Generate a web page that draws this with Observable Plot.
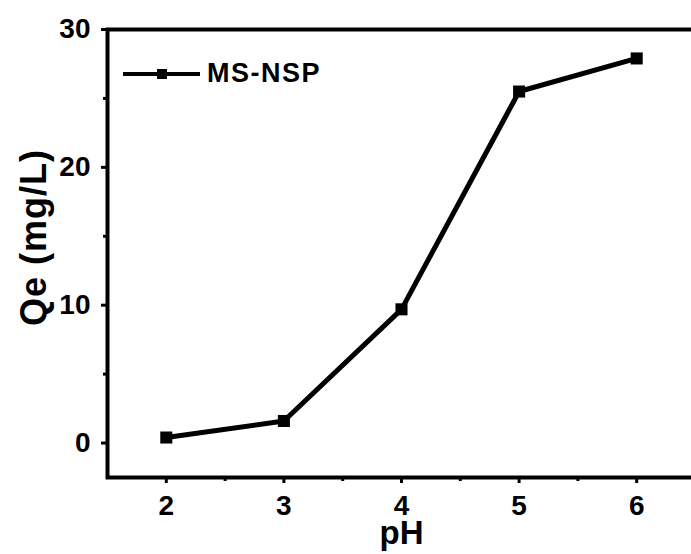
<!DOCTYPE html>
<html>
<head>
<meta charset="utf-8">
<script src="https://cdn.jsdelivr.net/npm/d3@7"></script>
<script src="https://cdn.jsdelivr.net/npm/@observablehq/plot@0.6"></script>
<style>
  html, body { margin: 0; padding: 0; background: #fff; }
  #wrap { position: relative; width: 691px; height: 554px; overflow: hidden; font-family: "Liberation Sans", Arial, sans-serif; }
  #legend { position: absolute; left: 121px; top: 58px; display: flex; align-items: center; }
  #legend span { font-weight: bold; font-size: 27px; letter-spacing: 1.5px; margin-left: 4px; color: #000; }
  g[aria-label="x-axis tick label"], g[aria-label="y-axis tick label"] { font-size: 28px; font-weight: bold; }
</style>
</head>
<body>
<div id="wrap">
  <div id="legend"></div>
</div>
<script>
const pH = [2, 3, 4, 5, 6];
const qe = [0.4, 1.6, 9.7, 25.5, 27.9];
const seriesName = "MS-NSP";
const xTicks = [2, 3, 4, 5, 6];
const xMinorTicks = [2.5, 3.5, 4.5, 5.5];
const yTicks = [0, 10, 20, 30];
const yMinorTicks = [5, 15, 25];
const xLabel = "pH";
const yLabel = "Qe (mg/L)";

const data = pH.map((x, i) => ({x, y: qe[i]}));
const font = "Liberation Sans, Arial, sans-serif";

const chart = Plot.plot({
  width: 691,
  height: 554,
  marginLeft: 107,
  marginTop: 29,
  marginBottom: 77,
  marginRight: -4,
  style: {fontFamily: font, background: "#fff", overflow: "visible"},
  x: {domain: [1.5, 6.5]},
  y: {domain: [-2.5, 30]},
  marks: [
    Plot.axisX({ticks: xTicks, tickSize: 6, tickPadding: 12, strokeWidth: 3, fontSize: 28, fontWeight: "bold", label: null, tickFormat: d => String(d)}),
    Plot.axisX({ticks: xMinorTicks, tickSize: 4, strokeWidth: 3, text: null, label: null}),
    Plot.axisY({ticks: yTicks, tickSize: 6, tickPadding: 11, strokeWidth: 3, fontSize: 28, fontWeight: "bold", label: null, tickFormat: d => String(d)}),
    Plot.axisY({ticks: yMinorTicks, tickSize: 4, strokeWidth: 3, text: null, label: null}),
    Plot.frame({stroke: "#000", strokeWidth: 4}),
    Plot.line(data, {x: "x", y: "y", stroke: "#000", strokeWidth: 5}),
    Plot.dot(data, {x: "x", y: "y", symbol: "square", r: 6.8, fill: "#000", stroke: "none"}),
    Plot.text([xLabel], {frameAnchor: "bottom", textAnchor: "middle", lineAnchor: "bottom", dy: 66, fontSize: 33, fontWeight: "bold", fill: "#000"}),
    Plot.text([yLabel], {frameAnchor: "left", textAnchor: "middle", lineAnchor: "middle", rotate: -90, dx: -73, dy: -16, fontSize: 36, fontWeight: "bold", fill: "#000"})
  ]
});
document.getElementById("wrap").prepend(chart);
d3.select(chart).selectAll("text").filter(function() { return this.textContent === yLabel; })
  .style("letter-spacing", "1px");

// legend
const leg = d3.select("#legend");
const ls = leg.append("svg").attr("width", 82).attr("height", 30);
ls.append("line").attr("x1", 2).attr("x2", 79).attr("y1", 15).attr("y2", 15).attr("stroke", "#000").attr("stroke-width", 4);
ls.append("rect").attr("x", 36).attr("y", 10).attr("width", 10).attr("height", 10).attr("fill", "#000");
leg.append("span").text(seriesName);
</script>
</body>
</html>
